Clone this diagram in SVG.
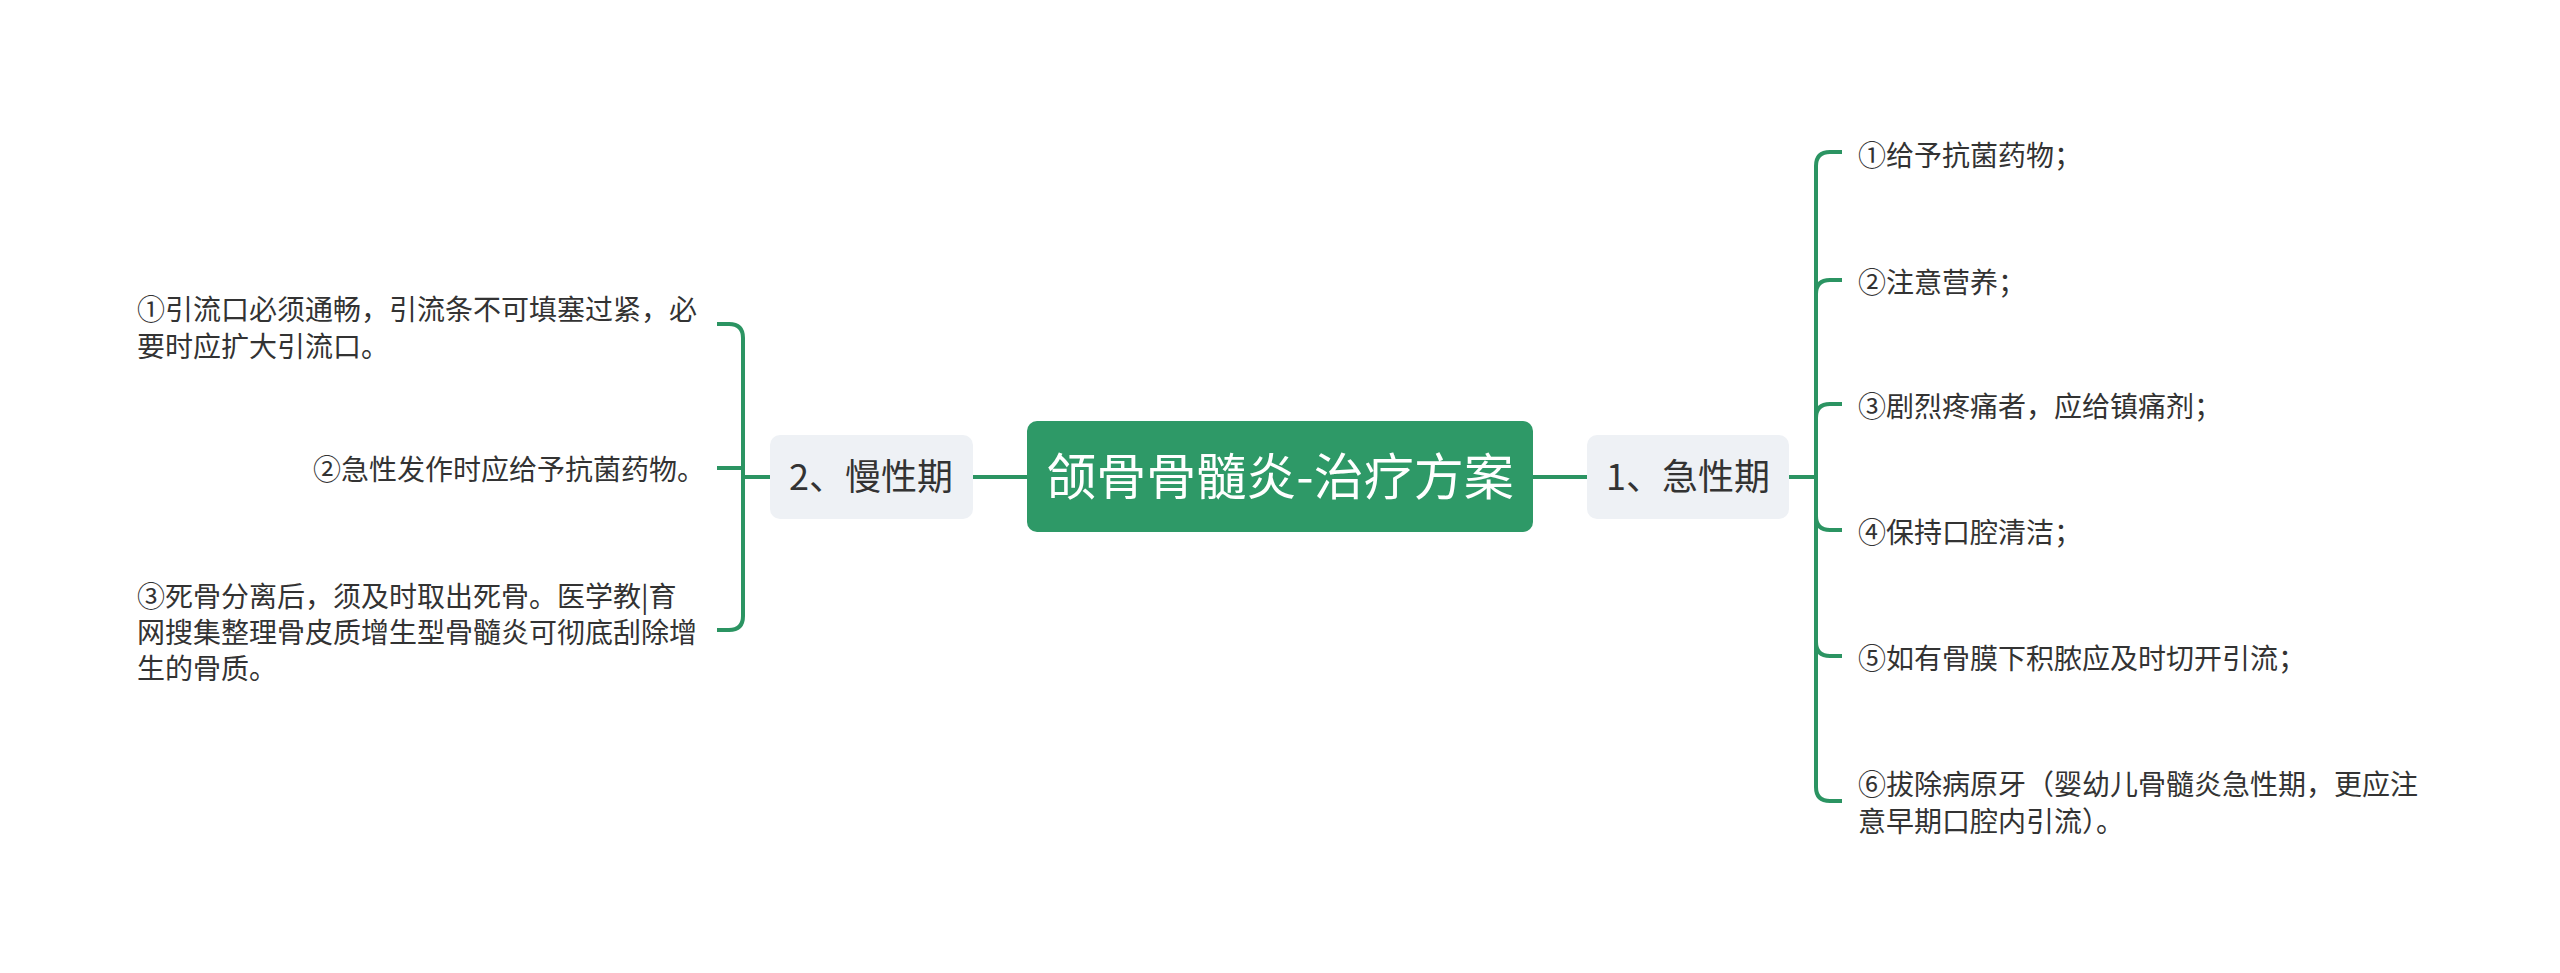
<svg xmlns="http://www.w3.org/2000/svg" width="2560" height="973" viewBox="0 0 2560 973">
<style>
text{font-family:"Noto Sans CJK SC","Noto Sans",sans-serif;}
.leaf{font-size:28px;fill:#333333;}
.sub{font-size:36px;fill:#333333;}
.root{font-size:50px;fill:#ffffff;}
.conn{fill:none;stroke:#2b9462;stroke-width:4;stroke-linecap:butt;}
</style>
<rect width="2560" height="973" fill="#ffffff"/>
<g id="connectors">
<path class="conn" d="M973,477 H1027"/>
<path class="conn" d="M1533,477 H1587"/>
<path class="conn" d="M1789,477 H1816"/>
<path class="conn" d="M1816,477 V166 Q1816,152 1830,152 H1842"/>
<path class="conn" d="M1816,477 V294 Q1816,280 1830,280 H1842"/>
<path class="conn" d="M1816,477 V418 Q1816,404 1830,404 H1842"/>
<path class="conn" d="M1816,477 V516 Q1816,530 1830,530 H1842"/>
<path class="conn" d="M1816,477 V642 Q1816,656 1830,656 H1842"/>
<path class="conn" d="M1816,477 V787 Q1816,801 1830,801 H1842"/>
<path class="conn" d="M770,477 H743"/>
<path class="conn" d="M743,477 V338 Q743,324 729,324 H717"/>
<path class="conn" d="M743,477 V468 H717"/>
<path class="conn" d="M743,477 V616 Q743,630 729,630 H717"/>
</g>
<g id="root">
<rect x="1027" y="421" width="506" height="111" rx="10" fill="#2e9967"/>
<text class="root" x="1280" y="495" text-anchor="middle">颌骨骨髓炎-治疗方案</text>
</g>
<g id="acute">
<rect x="1587" y="435" width="202" height="84" rx="10" fill="#eef1f5"/>
<text class="sub" x="1688" y="490" text-anchor="middle">1、急性期</text>
</g>
<g id="chronic">
<rect x="770" y="435" width="203" height="84" rx="10" fill="#eef1f5"/>
<text class="sub" x="871" y="490" text-anchor="middle">2、慢性期</text>
</g>
<g id="a1"><text class="leaf" x="1858" y="166">①给予抗菌药物；</text></g>
<g id="a2"><text class="leaf" x="1858" y="293">②注意营养；</text></g>
<g id="a3"><text class="leaf" x="1858" y="417">③剧烈疼痛者，应给镇痛剂；</text></g>
<g id="a4"><text class="leaf" x="1858" y="543">④保持口腔清洁；</text></g>
<g id="a5"><text class="leaf" x="1858" y="669">⑤如有骨膜下积脓应及时切开引流；</text></g>
<g id="a6"><text class="leaf" x="1858" y="795">⑥拔除病原牙（婴幼儿骨髓炎急性期，更应注<tspan x="1858" y="832">意早期口腔内引流）。</tspan></text></g>
<g id="c1"><text class="leaf" x="137" y="320">①引流口必须通畅，引流条不可填塞过紧，必<tspan x="137" y="357">要时应扩大引流口。</tspan></text></g>
<g id="c2"><text class="leaf" x="705" y="480" text-anchor="end">②急性发作时应给予抗菌药物。</text></g>
<g id="c3"><text class="leaf" x="137" y="607">③死骨分离后，须及时取出死骨。医学教|育<tspan x="137" y="643">网搜集整理骨皮质增生型骨髓炎可彻底刮除增</tspan><tspan x="137" y="679">生的骨质。</tspan></text></g>
</svg>
